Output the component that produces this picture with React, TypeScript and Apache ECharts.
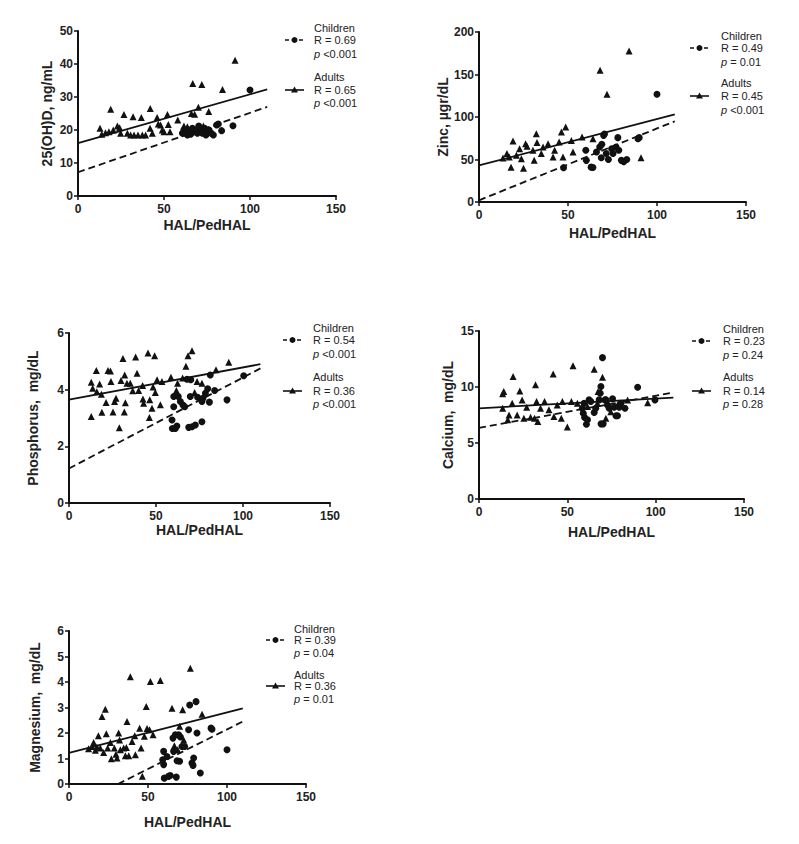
import React, { useEffect, useRef } from "react";
import * as echarts from "echarts";

// ---------- Data ----------
const xName = "HAL/PedHAL";
const xMin = 0;
const xMax = 150;
const xInterval = 50;

// Panel 1: 25(OH)D
const vitDChildren = [
  [60.7, 19], [61.6, 20], [62.6, 19.2], [63.6, 18.5], [64.5, 19.8], [65.5, 18.7], [66.5, 20.5], [67, 19.4],
  [68.4, 20], [69.4, 19], [70.2, 21.2], [71.3, 20], [72.3, 19], [73.6, 20.5], [74.4, 18.5], [74.8, 19.5],
  [76.2, 20], [77.5, 19], [78.7, 18.5], [80.6, 21.5], [81.6, 21.8], [83.5, 19.8], [90.1, 21.3], [100, 32.1],
];
const vitDAdults = [
  [12.8, 20.5], [13.8, 18.7], [16, 19.2], [18, 19.5], [19, 26.3], [20.5, 20], [22.9, 21.2], [24.2, 20.7],
  [24.8, 19], [26.7, 24.7], [28.7, 19], [30.6, 18.5], [32, 24], [32.6, 18.5], [34.9, 18.5], [36.8, 23.8],
  [37.4, 18.5], [39.3, 18.5], [42, 26.5], [41.9, 20.5], [43.2, 19], [46, 23.8], [46.7, 21.8], [48, 21.5],
  [49, 20], [50, 19.5], [52, 24.7], [52.5, 21.7], [53.5, 19.5], [58, 23], [61.6, 21.2], [63.6, 21],
  [65.9, 25], [66.7, 34.1], [67.8, 24.8], [70, 26.9], [72, 33.8], [72.9, 21.2], [76, 25.6], [84, 32.3], [91.3, 41.1],
];
const vitDChildFit = [[0, 7.2], [110, 27]];
const vitDAdultFit = [[0, 16], [110, 32.3]];
const vitDStats = ["R = 0.69", " <0.001", "R = 0.65", " <0.001"];

// Panel 2: Zinc
const zincChildren = [
  [70, 78.4], [70.5, 80], [60, 60.8], [60.3, 49], [63, 41], [64, 40.5], [66, 58.8], [67.8, 64.7], [68.7, 52],
  [69, 67.8], [71.5, 57], [72.7, 50], [74.5, 62.7], [75.3, 57], [77, 64.7], [78, 75.7], [78.5, 60.8],
  [80, 49], [81.3, 47.5], [83, 50], [89.3, 74.5], [90, 75.7], [100, 126.7], [47.5, 40.4],
];
const zincAdults = [
  [13.5, 51.8], [15.7, 57], [17, 53], [18, 41], [19.1, 71.8], [21, 55], [22.8, 62.7], [23.8, 51], [25, 39.6],
  [26.2, 68.6], [27, 65.5], [30.3, 60.8], [31, 49], [32.2, 80.4], [32.6, 70], [35, 57], [36, 64.7],
  [38.8, 68.6], [41.6, 53], [42.5, 60.8], [45, 70.6], [46.3, 82.4], [47.2, 53], [48.7, 88.2], [51.9, 72.5],
  [52.8, 58.8], [57.9, 76.5], [64, 74.5], [68, 154.9], [71.9, 126.7], [84.3, 177.6], [91, 52],
];
const zincChildFit = [[0, 2], [110, 95]];
const zincAdultFit = [[0, 43], [110, 103]];
const zincStats = ["R = 0.49", " = 0.01", "R = 0.45", " <0.001"];

// Panel 3: Phosphorus
const phosChildren = [
  [59.2, 2.93], [59.4, 2.63], [61.1, 2.63], [62, 2.72], [60.2, 3.4], [60.2, 3.76], [62.8, 3.76], [64, 3.58],
  [65.5, 3.46], [66.5, 3.4], [67.8, 4.37], [68.8, 2.67], [69.7, 3.76], [70, 4.35], [70.7, 2.69], [72.6, 2.75],
  [73.9, 3.73], [76.4, 2.87], [76.4, 3.58], [77, 3.7], [78.4, 3.87], [79.7, 4.03], [80.7, 3.56], [81.2, 4.52],
  [83.7, 3.97], [90.8, 3.64], [100.4, 4.49],
];
const phosAdults = [
  [12.8, 3.05], [12.8, 4.26], [13.6, 4.05], [15.7, 4.68], [16, 3.93], [17.6, 4.2], [18.6, 3.84], [18.9, 3.2],
  [21.3, 3.55], [22.4, 4.68], [23.8, 4.66], [24.1, 4.29], [25.3, 3.21], [26.2, 3.58], [27, 3.7], [28.9, 2.66],
  [29.9, 4.32], [31, 5.1], [32, 4.52], [32.4, 3.54], [31.8, 3.21], [33.3, 4.23], [35.2, 4.23], [36.6, 3.96],
  [38.3, 5.15], [39.1, 4.58], [40, 3.97], [42.3, 4.15], [42.5, 3.67], [42.9, 3.52], [45.4, 5.29], [46.4, 3.64],
  [46.2, 3.02], [47.7, 3.34], [48.3, 4.09], [49.2, 5.2], [49.6, 3.9], [50.6, 4.35], [52.5, 3.47], [53.4, 4.29],
  [58.6, 4.44], [61.7, 3.97], [62.4, 4.23], [65.3, 4.41], [67.2, 4.83], [68.4, 5.2], [70.7, 5.37], [72.2, 3.9],
  [73.6, 4.29], [76.4, 4.23], [84.5, 4.7], [91.8, 4.97],
];
const phosChildFit = [[0, 1.22], [110, 4.75]];
const phosAdultFit = [[0, 3.65], [110, 4.9]];
const phosStats = ["R = 0.54", " <0.001", "R = 0.36", " <0.001"];

// Panel 4: Calcium
const calcChildren = [
  [69.9, 12.62], [69, 10.04], [68.6, 9.44], [68, 8.85], [59.5, 8.55], [58.5, 8.1], [59, 7.66], [59.8, 7.28],
  [60.8, 6.68], [61.4, 7.07], [62.3, 8.85], [63.3, 8.7], [65.2, 7.72], [66.1, 8.1], [69.1, 6.71], [70.3, 6.71],
  [71.4, 8.85], [71.8, 8.85], [72.7, 8.4], [73.7, 8.1], [75.6, 8.94], [76.5, 8.2], [77.5, 7.43], [78.4, 7.43],
  [79.4, 8.2], [80.3, 8.55], [82.6, 8.1], [89.8, 9.98], [99.6, 8.85],
];
const calcAdults = [
  [13.4, 9.39], [14, 9.6], [13.4, 8.1], [16.3, 7.07], [17, 7.5], [19.3, 10.93], [18.8, 8.55], [21.6, 7.5],
  [23.1, 9.65], [24.4, 8.85], [25.4, 7.2], [27, 8.2], [29.2, 7.3], [31.4, 7.2], [32, 10.19], [32.6, 8.7],
  [33.3, 6.92], [34.8, 8.1], [37.1, 8.7], [39.6, 7.96], [42, 11.17], [42.4, 7.37], [44.3, 8.4], [46.6, 7.2],
  [47.2, 8.7], [50, 6.42], [52.3, 8.7], [53.2, 11.9], [55.7, 8.55], [61.4, 8.25], [65.2, 11.58], [67.4, 9.6],
  [67, 8.55], [69.9, 10.87], [71.8, 7.2], [74.6, 7.8], [78.4, 8.4], [84.1, 8.85], [95.5, 8.6],
];
const calcChildFit = [[0, 6.35], [110, 9.5]];
const calcAdultFit = [[0, 8.1], [110, 9.05]];
const calcStats = ["R = 0.23", " = 0.24", "R = 0.14", " = 0.28"];

// Panel 5: Magnesium
const magChildren = [
  [59.9, 1.28], [59.3, 0.95], [59.9, 0.76], [60.3, 0.23], [62, 1.08], [63, 0.3], [64.1, 0.33], [65.8, 1.8],
  [66.2, 1.28], [67.3, 1.93], [67.9, 0.27], [68.4, 0.91], [69.4, 1.93], [70, 0.89], [70.5, 1.84], [71.5, 1.47],
  [73.2, 1.47], [75.7, 2.13], [76.4, 3.1], [77.8, 0.82], [78.9, 1.02], [78.5, 0.73], [80.4, 3.23], [81, 2.0],
  [83.1, 0.43], [89.9, 2.19], [90.5, 2.15], [100, 1.34],
];
const magAdults = [
  [12.4, 1.38], [14.6, 1.47], [15.6, 1.63], [16.7, 1.32], [17.7, 1.45], [18.6, 1.89], [19.8, 1.41], [20.9, 2.65],
  [21.9, 1.24], [23, 2.93], [23.6, 1.97], [24.5, 1.41], [26.2, 1.63], [26.8, 0.99], [28.7, 1.41], [29.7, 1.17],
  [30.4, 1.02], [31.4, 2.0], [32, 1.73], [32.5, 1.34], [34.6, 1.41], [35.7, 1.11], [36.3, 1.43], [36.7, 2.45],
  [37.8, 1.11], [38.8, 4.21], [39.9, 1.67], [41.6, 1.89], [42, 1.15], [44.7, 2.19], [45.6, 1.41], [46.4, 0.3],
  [47.7, 1.87], [48.9, 3.04], [49.4, 2.18], [51, 2.13], [51.5, 4.02], [53.2, 1.93], [57.8, 4.06], [65.2, 2.97],
  [66.7, 1.5], [68.8, 1.34], [70, 2.26], [71.9, 2.91], [72.6, 1.73], [76.8, 4.54], [84.2, 2.74],
];
const magChildFit = [[31, 0], [110, 2.45]];
const magAdultFit = [[0, 1.22], [110, 2.97]];
const magStats = ["R = 0.39", " = 0.04", "R = 0.36", " = 0.01"];

// ---------- Layout ----------
const FONT = "'Liberation Sans', Arial, sans-serif";
const INK = "#111";

const panels = [
  {
    grid: { left: 78, top: 31, width: 258, height: 165 }, yMax: 50, yInt: 10, yName: "25(OH)D, ng/mL",
    yGap: 24, xGap: 22, children: vitDChildren, adults: vitDAdults, childFit: vitDChildFit, adultFit: vitDAdultFit,
    stats: vitDStats, legend: { lx: 285, tx: 314, ys: [28, 40, 54, 77, 90, 103] },
  },
  {
    grid: { left: 479, top: 32, width: 267, height: 170 }, yMax: 200, yInt: 50, yName: "Zinc, µgr/dL",
    yGap: 28, xGap: 24, children: zincChildren, adults: zincAdults, childFit: zincChildFit, adultFit: zincAdultFit,
    stats: zincStats, legend: { lx: 690, tx: 721, ys: [36, 48, 62, 83, 96, 110] },
  },
  {
    grid: { left: 69, top: 333, width: 261, height: 170 }, yMax: 6, yInt: 2, yName: "Phosphorus,  mg/dL",
    yGap: 29, xGap: 19, children: phosChildren, adults: phosAdults, childFit: phosChildFit, adultFit: phosAdultFit,
    stats: phosStats, legend: { lx: 283, tx: 313, ys: [328, 340, 354, 377, 391, 404] },
  },
  {
    grid: { left: 479, top: 331, width: 265, height: 168 }, yMax: 15, yInt: 5, yName: "Calcium,  mg/dL",
    yGap: 24, xGap: 26, children: calcChildren, adults: calcAdults, childFit: calcChildFit, adultFit: calcAdultFit,
    stats: calcStats, legend: { lx: 692, tx: 723, ys: [329, 341, 355, 377, 391, 404] },
  },
  {
    grid: { left: 69, top: 631, width: 237, height: 153 }, yMax: 6, yInt: 1, yName: "Magnesium,  mg/dL",
    yGap: 27, xGap: 31, children: magChildren, adults: magAdults, childFit: magChildFit, adultFit: magAdultFit,
    stats: magStats, legend: { lx: 266, tx: 294, ys: [629, 640, 653, 675, 686, 699] },
  },
];

function legendGraphics(p: any) {
  const { lx, tx, ys } = p.legend;
  const len = 19;
  const mid = lx + len / 2;
  const txt = (y: number, text: string, italicP = false) => ({
    type: "text",
    x: tx,
    y,
    style: italicP
      ? {
          text: "{i|p}{n|" + text + "}",
          verticalAlign: "middle",
          rich: {
            i: { fontStyle: "italic", fontSize: 11, fontFamily: FONT, fill: "#222" },
            n: { fontSize: 11, fontFamily: FONT, fill: "#222" },
          },
        }
      : { text, fontSize: 11, fontFamily: FONT, fill: "#222", verticalAlign: "middle" },
  });
  const ty = ys[4];
  return [
    txt(ys[0], "Children"),
    txt(ys[1], p.stats[0]),
    txt(ys[2], p.stats[1], true),
    txt(ys[3], "Adults"),
    txt(ys[4], p.stats[2]),
    txt(ys[5], p.stats[3], true),
    {
      type: "line",
      shape: { x1: lx, y1: ys[1], x2: lx + len, y2: ys[1] },
      style: { stroke: INK, lineWidth: 1.6, lineDash: [4, 3] },
    },
    { type: "circle", shape: { cx: mid, cy: ys[1], r: 3 }, style: { fill: INK } },
    {
      type: "line",
      shape: { x1: lx, y1: ty, x2: lx + len, y2: ty },
      style: { stroke: INK, lineWidth: 1.6 },
    },
    {
      type: "polygon",
      shape: { points: [[mid, ty - 3.5], [mid - 3.5, ty + 2.5], [mid + 3.5, ty + 2.5]] },
      style: { fill: INK },
    },
  ];
}

export default function App() {
  const ref = useRef<HTMLDivElement>(null);
  useEffect(() => {
    if (!ref.current) return;
    const chart = echarts.init(ref.current, undefined, { renderer: "svg" });
    const grid: any[] = [];
    const xAxis: any[] = [];
    const yAxis: any[] = [];
    const series: any[] = [];
    let graphic: any[] = [];
    panels.forEach((p, i) => {
      grid.push({ ...p.grid, containLabel: false });
      xAxis.push({
        type: "value",
        gridIndex: i,
        min: xMin,
        max: xMax,
        interval: xInterval,
        name: xName,
        nameLocation: "middle",
        nameGap: p.xGap,
        nameTextStyle: { fontFamily: FONT, fontWeight: "bold", fontSize: 14, color: "#222" },
        axisLine: { show: true, onZero: false, lineStyle: { color: INK, width: 2 } },
        axisTick: { show: true, length: 4, lineStyle: { color: INK, width: 1.5 } },
        axisLabel: { margin: 7, fontFamily: FONT, fontWeight: "bold", fontSize: 12, color: "#222" },
        splitLine: { show: false },
      });
      yAxis.push({
        type: "value",
        gridIndex: i,
        min: 0,
        max: p.yMax,
        interval: p.yInt,
        name: p.yName,
        nameLocation: "middle",
        nameGap: p.yGap,
        nameRotate: 90,
        nameTextStyle: { fontFamily: FONT, fontWeight: "bold", fontSize: 14, color: "#222" },
        axisLine: { show: true, onZero: false, lineStyle: { color: INK, width: 2 } },
        axisTick: { show: true, length: 4, lineStyle: { color: INK, width: 1.5 } },
        axisLabel: { margin: 5, fontFamily: FONT, fontWeight: "bold", fontSize: 12, color: "#222" },
        splitLine: { show: false },
      });
      series.push(
        {
          type: "scatter",
          xAxisIndex: i,
          yAxisIndex: i,
          data: p.adults,
          symbol: "triangle",
          symbolSize: 7,
          itemStyle: { color: INK, opacity: 1 },
        },
        {
          type: "scatter",
          xAxisIndex: i,
          yAxisIndex: i,
          data: p.children,
          symbol: "circle",
          symbolSize: 7,
          itemStyle: { color: INK, opacity: 1 },
        },
        {
          type: "line",
          xAxisIndex: i,
          yAxisIndex: i,
          data: p.adultFit,
          showSymbol: false,
          symbol: "none",
          lineStyle: { color: INK, width: 1.8 },
        },
        {
          type: "line",
          xAxisIndex: i,
          yAxisIndex: i,
          data: p.childFit,
          showSymbol: false,
          symbol: "none",
          lineStyle: { color: INK, width: 1.8, type: [7, 4] },
        }
      );
      graphic = graphic.concat(legendGraphics(p));
    });
    chart.setOption({
      animation: false,
      backgroundColor: "#fff",
      grid,
      xAxis,
      yAxis,
      series,
      graphic,
    });
    return () => chart.dispose();
  }, []);
  return (
    <div
      ref={ref}
      style={{ position: "absolute", left: 0, top: 0, width: 799, height: 844, background: "#fff" }}
    />
  );
}
